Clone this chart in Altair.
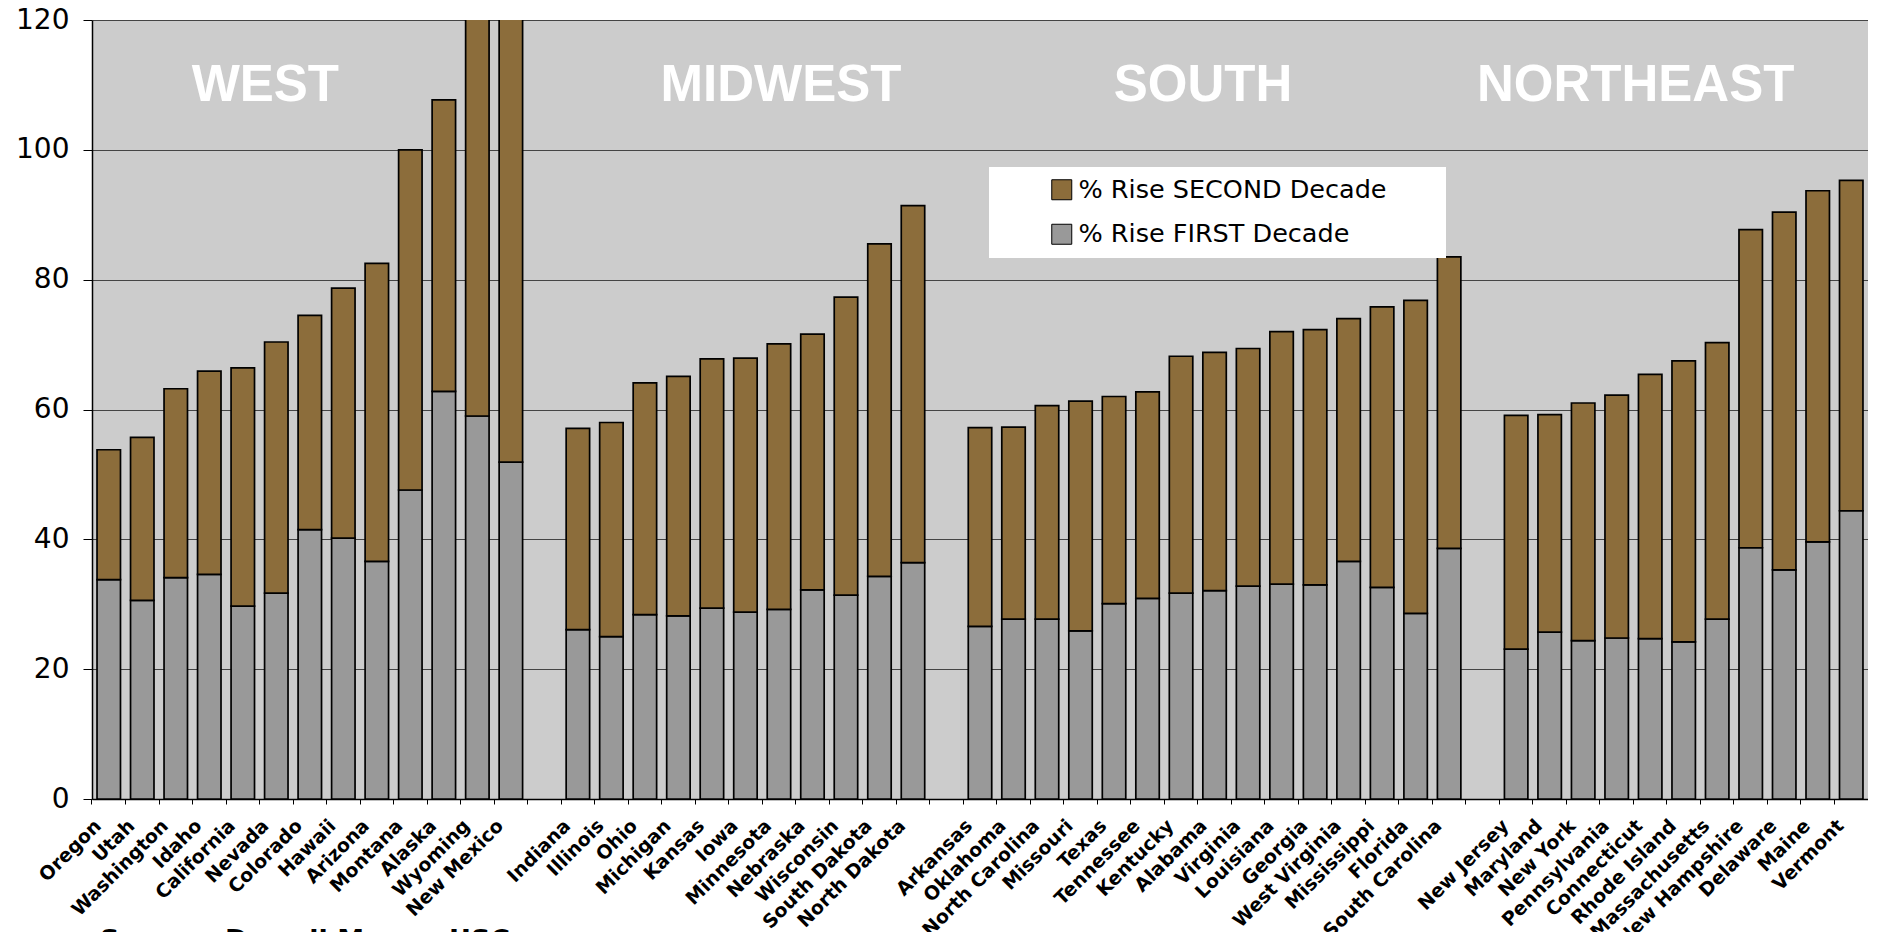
import altair as alt
import pandas as pd

# ---------------- data ----------------
west_states = ["Oregon", "Utah", "Washington", "Idaho", "California", "Nevada", "Colorado",
               "Hawaii", "Arizona", "Montana", "Alaska", "Wyoming", "New Mexico"]
west_first = [33.8, 30.6, 34.1, 34.6, 29.7, 31.7, 41.5, 40.2, 36.6, 47.6, 62.8, 59.0, 51.9]
west_second = [20.0, 25.1, 29.1, 31.3, 36.7, 38.7, 33.0, 38.5, 45.9, 52.4, 44.9, 72.0, 76.1]

midwest_states = ["Indiana", "Illinois", "Ohio", "Michigan", "Kansas", "Iowa", "Minnesota",
                  "Nebraska", "Wisconsin", "South Dakota", "North Dakota"]
midwest_first = [26.1, 25.0, 28.4, 28.2, 29.4, 28.8, 29.2, 32.2, 31.4, 34.3, 36.4]
midwest_second = [31.0, 33.0, 35.7, 36.9, 38.4, 39.1, 40.9, 39.4, 45.9, 51.2, 55.0]

south_states = ["Arkansas", "Oklahoma", "North Carolina", "Missouri", "Texas", "Tennessee",
                "Kentucky", "Alabama", "Virginia", "Louisiana", "Georgia", "West Virginia",
                "Mississippi", "Florida", "South Carolina"]
south_first = [26.6, 27.7, 27.7, 25.9, 30.1, 30.9, 31.7, 32.1, 32.8, 33.1, 33.0, 36.6, 32.6, 28.6, 38.6]
south_second = [30.6, 29.6, 32.9, 35.4, 31.9, 31.8, 36.5, 36.7, 36.6, 38.9, 39.3, 37.4, 43.2, 48.2, 44.9]

northeast_states = ["New Jersey", "Maryland", "New York", "Pennsylvania", "Connecticut",
                    "Rhode Island", "Massachusetts", "New Hampshire", "Delaware", "Maine", "Vermont"]
northeast_first = [23.1, 25.7, 24.4, 24.8, 24.7, 24.2, 27.7, 38.7, 35.3, 39.6, 44.4]
northeast_second = [36.0, 33.5, 36.6, 37.4, 40.7, 43.3, 42.6, 49.0, 55.1, 54.1, 50.9]

gap_slots = [" ", "  ", "   "]

regions = ["WEST", "MIDWEST", "SOUTH", "NORTHEAST"]
region_anchor = ["Nevada", "Minnesota", "Kentucky", "Pennsylvania"]

FIRST = "% Rise FIRST Decade"
SECOND = "% Rise SECOND Decade"
source_text = "Source: Dowell Myers, USC"

# ---------------- build table ----------------
domain = (west_states + [gap_slots[0]] + midwest_states + [gap_slots[1]]
          + south_states + [gap_slots[2]] + northeast_states)

rows = []
for states, first, second in [(west_states, west_first, west_second),
                              (midwest_states, midwest_first, midwest_second),
                              (south_states, south_first, south_second),
                              (northeast_states, northeast_first, northeast_second)]:
    for s, f, sc in zip(states, first, second):
        rows.append({"state": s, "series": FIRST, "value": f, "ord": 0})
        rows.append({"state": s, "series": SECOND, "value": sc, "ord": 1})
df = pd.DataFrame(rows)

BROWN = "#8C6D3B"
GRAY = "#999999"
BG = "#CCCCCC"

x_scale = alt.Scale(domain=domain, paddingInner=0, paddingOuter=0)
y_scale = alt.Scale(domain=[0, 120], nice=False)

x_axis = alt.Axis(title=None, labelAngle=-45, labelAlign="right", labelBaseline="top",
                  labelFont="DejaVu Sans", labelFontWeight="bold", labelFontSize=19,
                  labelColor="black", tickSize=5, tickColor="black", tickWidth=1,
                  domainColor="black", domainWidth=1.5, bandPosition=0,
                  labelOffset=-17, labelPadding=12, labelOverlap=False, grid=False,
                  labelBound=False)
y_axis = alt.Axis(title=None, values=[0, 20, 40, 60, 80, 100, 120],
                  labelFont="DejaVu Sans", labelFontSize=28, labelColor="black",
                  tickSize=9, tickColor="black", tickWidth=1, domainColor="black",
                  domainWidth=1.5, labelPadding=14, grid=True, gridColor="#444444",
                  gridWidth=1)

# trailing no-break spaces widen the white legend box (a zero-width space keeps them from being trimmed)
legend = alt.Legend(title=None, orient="none", legendX=897, legendY=147,
                    fillColor="white", padding=10, symbolType="square", symbolSize=400,
                    symbolStrokeColor="black", symbolStrokeWidth=1,
                    labelFont="DejaVu Sans", labelFontSize=25.5, labelColor="black",
                    labelLimit=700, rowPadding=17.5, symbolOffset=50, labelOffset=4,
                    labelExpr="datum.label + '\u00a0\u00a0\u00a0\u00a0\u00a0\u00a0\u200b'")

bars = alt.Chart(df).mark_bar(stroke="black", strokeWidth=1.7, clip=True,
                              width={"band": 0.7}).encode(
    x=alt.X("state:N", scale=x_scale, axis=x_axis),
    y=alt.Y("value:Q", stack="zero", scale=y_scale, axis=y_axis),
    color=alt.Color("series:N", scale=alt.Scale(domain=[SECOND, FIRST], range=[BROWN, GRAY]),
                    legend=legend),
    order=alt.Order("ord:Q", sort="ascending"),
)

region_dx = {"WEST": -11, "MIDWEST": 2, "SOUTH": 22, "NORTHEAST": 19}
layers = [bars]
for name, anchor in zip(regions, region_anchor):
    rdf = pd.DataFrame({"state": [anchor], "label": [name], "level": [109.8]})
    layers.append(
        alt.Chart(rdf).mark_text(font="Liberation Sans", fontWeight="bold", fontSize=51,
                                 color="white", align="center", baseline="middle",
                                 dx=region_dx[name]).encode(
            x=alt.X("state:N", scale=x_scale, axis=x_axis),
            y=alt.Y("level:Q", scale=y_scale, axis=y_axis),
            text="label:N",
        )
    )

chart = alt.layer(*layers).properties(
    width=1776, height=779,
    padding={"left": 84, "top": 12, "right": 0, "bottom": 133},
    autosize=alt.AutoSizeParams(type="none"),
    background="white",
    title=alt.TitleParams(source_text, orient="bottom", anchor="start", frame="group",
                          font="DejaVu Sans", fontSize=27, fontWeight="bold",
                          color="black", dx=8, offset=-21, baseline="top"),
).configure_view(fill=BG, stroke="transparent")

chart.save("out.html", embed_options={"renderer": "svg", "actions": False})
